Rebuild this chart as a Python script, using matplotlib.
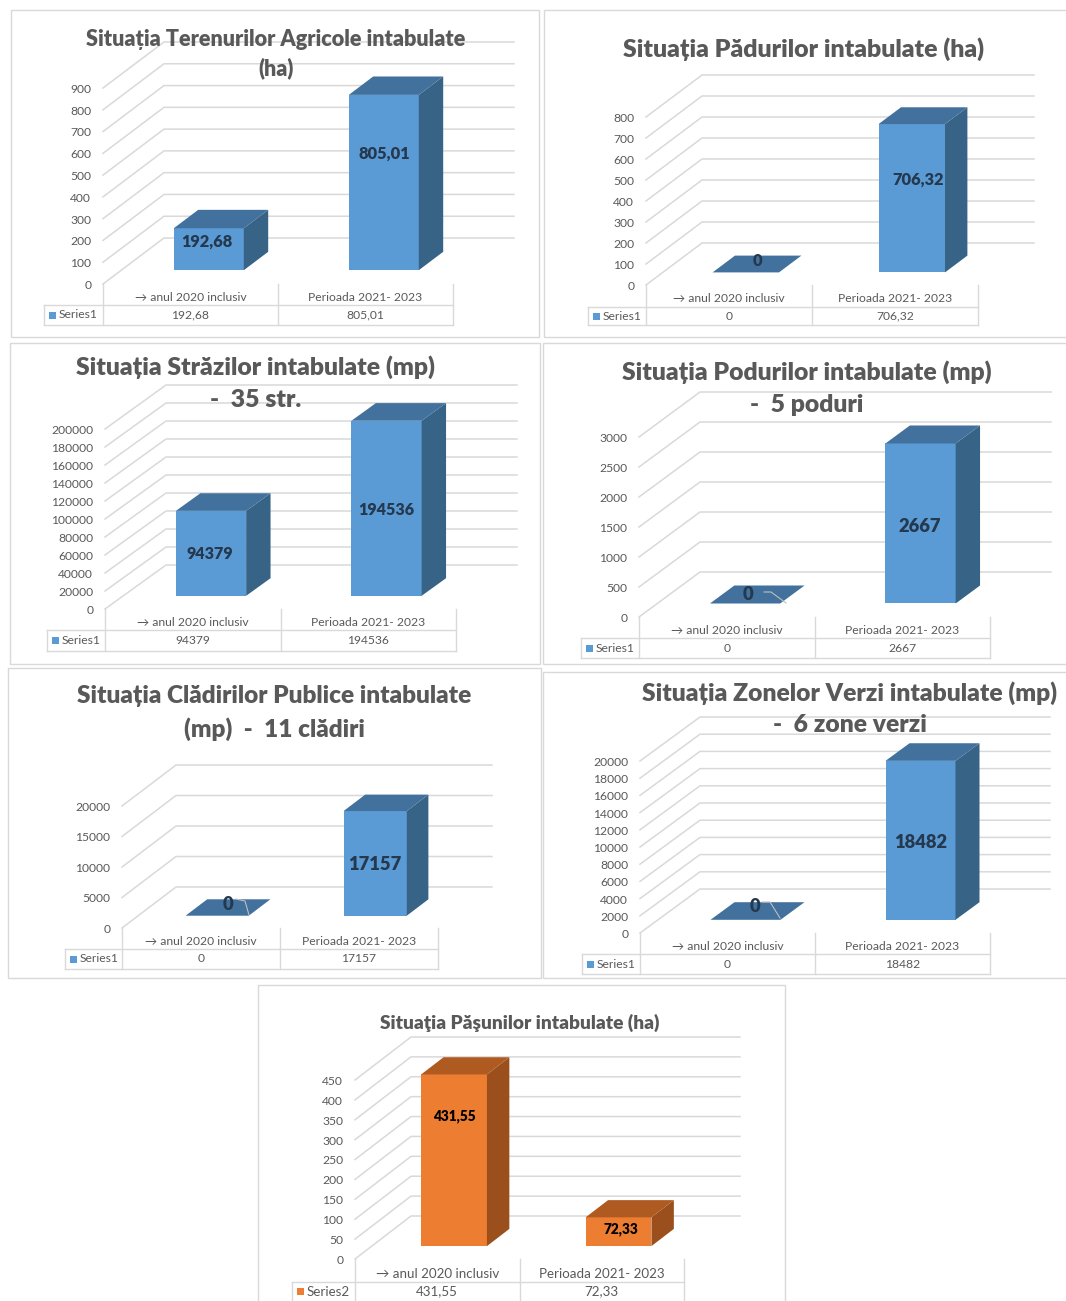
import matplotlib
matplotlib.use("Agg")
import matplotlib.pyplot as plt
from matplotlib.patches import Rectangle
from matplotlib.transforms import blended_transform_factory, Affine2D

plt.rcParams['font.family'] = ['Lato', 'DejaVu Sans']

# Chart data
categories = ["→ anul 2020 inclusiv", "Perioada 2021- 2023"]
terenuri = [192.68, 805.01]
paduri = [0, 706.32]
strazi = [94379, 194536]
poduri = [0, 2667]
cladiri = [0, 17157]
zone_verzi = [0, 18482]
pasuni = [431.55, 72.33]

series_names = ["Series1", "Series1", "Series1", "Series1", "Series1", "Series1", "Series2"]
all_values = [terenuri, paduri, strazi, poduri, cladiri, zone_verzi, pasuni]
axis_max = [900, 800, 200000, 3000, 20000, 20000, 450]
axis_step = [100, 100, 20000, 500, 5000, 2000, 50]
titles = [
    ["Situația Terenurilor Agricole intabulate", "(ha)"],
    ["Situația Pădurilor intabulate (ha)"],
    ["Situația Străzilor intabulate (mp)", "-  35 str."],
    ["Situația Podurilor intabulate (mp)", "-  5 poduri"],
    ["Situația Clădirilor Publice intabulate", "(mp)  -  11 clădiri"],
    ["Situația Zonelor Verzi intabulate (mp)", "-  6 zone verzi"],
    ["Situaţia Păşunilor intabulate (ha)"],
]

# Layout control zone, everything in pixels of the 1066x1301 picture
W, H = 1066, 1301
frames = [(11, 10, 539, 337), (544, 10, 1070, 337), (10, 343, 540, 664), (543, 343, 1070, 664),
          (8, 668, 541, 978), (543, 672, 1070, 978), (258, 985, 785, 1310)]
# axis x, table right, front y of 0, front y of max, wall dx, wall dy
plots = [(103, 453, 284, 88, 61, 46), (646, 978, 285, 117, 56, 42), (105, 456, 609, 429, 61, 44),
         (639, 990, 617, 437, 61, 45), (122, 438, 928, 806, 54, 41), (640, 990, 933, 761, 60, 44),
         (355, 684, 1259, 1080, 56, 43)]
# row line y, table bottom y, legend cell left
tables = [(305, 325, 44), (307, 325, 588), (630, 651, 47), (638, 658, 581),
          (949, 969, 65), (954, 974, 582), (1282, 1305, 292)]
title_xy = [(276, [39, 68]), (804, [49]), (256, [367, 400]), (807, [372, 405]),
            (274, [696, 729]), (850, [693, 725]), (520, [1023])]
title_size = [15.6, 17.9, 17.8, 17.8, 17.6, 17.7, 13.8]
label_xy = [[(207, 242), (384, 154)], [(757, 261), (918, 180)], [(210, 554), (386, 510)],
            [(748, 595), (920, 526)], [(228, 905), (375, 865)], [(755, 906), (921, 842)],
            [(454, 1116), (621, 1229)]]
leaders = [None, None, None, [(764, 592), (771, 592), (786, 603)], [(236, 899), (245, 901), (249, 915)],
           [(762, 902), (770, 902), (780, 918)], None]
label_size = [11.8, 11.8, 11.6, 13.2, 13.2, 13.2, 9.8]
table_size = [8.7, 8.7, 8.7, 8.7, 8.7, 8.7, 9.6]

BLUE = ("#5B9BD5", "#41719C", "#376387")
ORANGE = ("#ED7D31", "#AE5A21", "#9A4F1C")
GRID = "#D9D9D9"
TEXT = "#595959"
BAR_W = 0.4
D0, D1 = 0.3, 0.7
HEAVY = 800


def fmt(v):
    return str(v).replace(".", ",")


def draw_panel(fig, bg, n):
    vals = all_values[n]
    x0, x1, y0, ytop, wall_dx, wall_dy = plots[n]
    ymax = axis_max[n]
    front, top_col, side_col = ORANGE if n == 6 else BLUE

    ax = fig.add_axes([x0 / W, 1 - y0 / H, (x1 - x0) / W, (y0 - ytop) / H], facecolor="none")
    ax.set_xlim(0, 2)
    ax.set_ylim(0, ymax)
    DX = wall_dx * 2 / (x1 - x0)
    DY = wall_dy * ymax / (y0 - ytop)

    levels = list(range(0, ymax + 1, axis_step[n]))
    for lv in levels:
        ax.plot([0, DX, 2 + DX], [lv, lv + DY, lv + DY], color=GRID, lw=1.1, clip_on=False, zorder=1)

    for i, v in enumerate(vals):
        left = i + 0.5 - BAR_W / 2
        right = left + BAR_W
        fx0, fx1 = left + D0 * DX, right + D0 * DX
        bx0, bx1 = left + D1 * DX, right + D1 * DX
        fy, by = D0 * DY, D1 * DY
        if v > 0:
            ax.bar(fx0, v, BAR_W, bottom=fy, align="edge", color=front, lw=0, clip_on=False, zorder=3)
            ax.fill([fx1, bx1, bx1, fx1], [fy, by, by + v, fy + v], color=side_col, lw=0, clip_on=False, zorder=3)
        ax.fill([fx0, fx1, bx1, bx0], [fy + v, fy + v, by + v, by + v], color=top_col, lw=0, clip_on=False, zorder=3)

    ax.set_xticks([])
    ax.set_yticks(levels)
    ax.tick_params(axis="y", length=0, pad=8.5, labelsize=8.7, labelcolor=TEXT)
    for lab in ax.get_yticklabels():
        lab.set_transform(lab.get_transform() + Affine2D().translate(0, -0.4))
    for s in ax.spines.values():
        s.set_visible(False)

    # data table under the chart
    row_y, bot_y, leg_x = tables[n]
    xmid = (x0 + x1) / 2
    line = dict(color=GRID, lw=1, clip_on=False, zorder=2, transform=bg.transData)
    for xv in (x0, xmid, x1):
        ax.plot([xv, xv], [y0, bot_y], **line)
    ax.plot([leg_x, leg_x], [row_y, bot_y], **line)
    ax.plot([leg_x, x1], [row_y, row_y], **line)
    ax.plot([leg_x, x1], [bot_y, bot_y], **line)

    mixed = blended_transform_factory(ax.transData, bg.transData)
    ts = table_size[n]
    for i, cat in enumerate(categories):
        ax.text(i + 0.5, (y0 + row_y) / 2 + 3, cat, transform=mixed, ha="center", va="center", fontsize=ts, color=TEXT)
        ax.text(i + 0.5, (row_y + min(bot_y, H)) / 2, fmt(vals[i]), transform=mixed, ha="center", va="center",
                fontsize=ts, color=TEXT)
    ym = (row_y + min(bot_y, H)) / 2
    bg.add_patch(Rectangle((leg_x + 5, ym - 3.5), 7, 7, color=front, lw=0))
    ax.text(leg_x + 15, ym, series_names[n], transform=bg.transData, ha="left", va="center", fontsize=ts, color=TEXT)

    # value labels
    lab_col = "#000000" if n == 6 else "#24384E"
    for v, (lx, ly) in zip(vals, label_xy[n]):
        ax.text(lx, ly, fmt(v), transform=bg.transData, ha="center", va="center", fontsize=label_size[n],
                fontweight=HEAVY, color=lab_col, zorder=6, clip_on=False)
    if leaders[n] is not None:
        ax.plot([p[0] for p in leaders[n]], [p[1] for p in leaders[n]], color="#BFBFBF", lw=0.8,
                transform=bg.transData, clip_on=False, zorder=5)

    # title
    tx, tys = title_xy[n]
    for line_txt, ty in zip(titles[n], tys):
        ax.text(tx, ty, line_txt, transform=bg.transData, ha="center", va="center", fontsize=title_size[n],
                fontweight=HEAVY, color=TEXT, zorder=7, clip_on=False)


fig = plt.figure(figsize=(W / 100, H / 100), dpi=100, facecolor="white")
bg = fig.add_axes([0, 0, 1, 1])
bg.set_xlim(0, W)
bg.set_ylim(H, 0)
bg.axis("off")
for fx0, fy0, fx1, fy1 in frames:
    bg.add_patch(Rectangle((fx0, fy0), fx1 - fx0, fy1 - fy0, fill=False, ec=GRID, lw=1))

for n in range(len(all_values)):
    draw_panel(fig, bg, n)

fig.savefig("out.png", dpi=100)
